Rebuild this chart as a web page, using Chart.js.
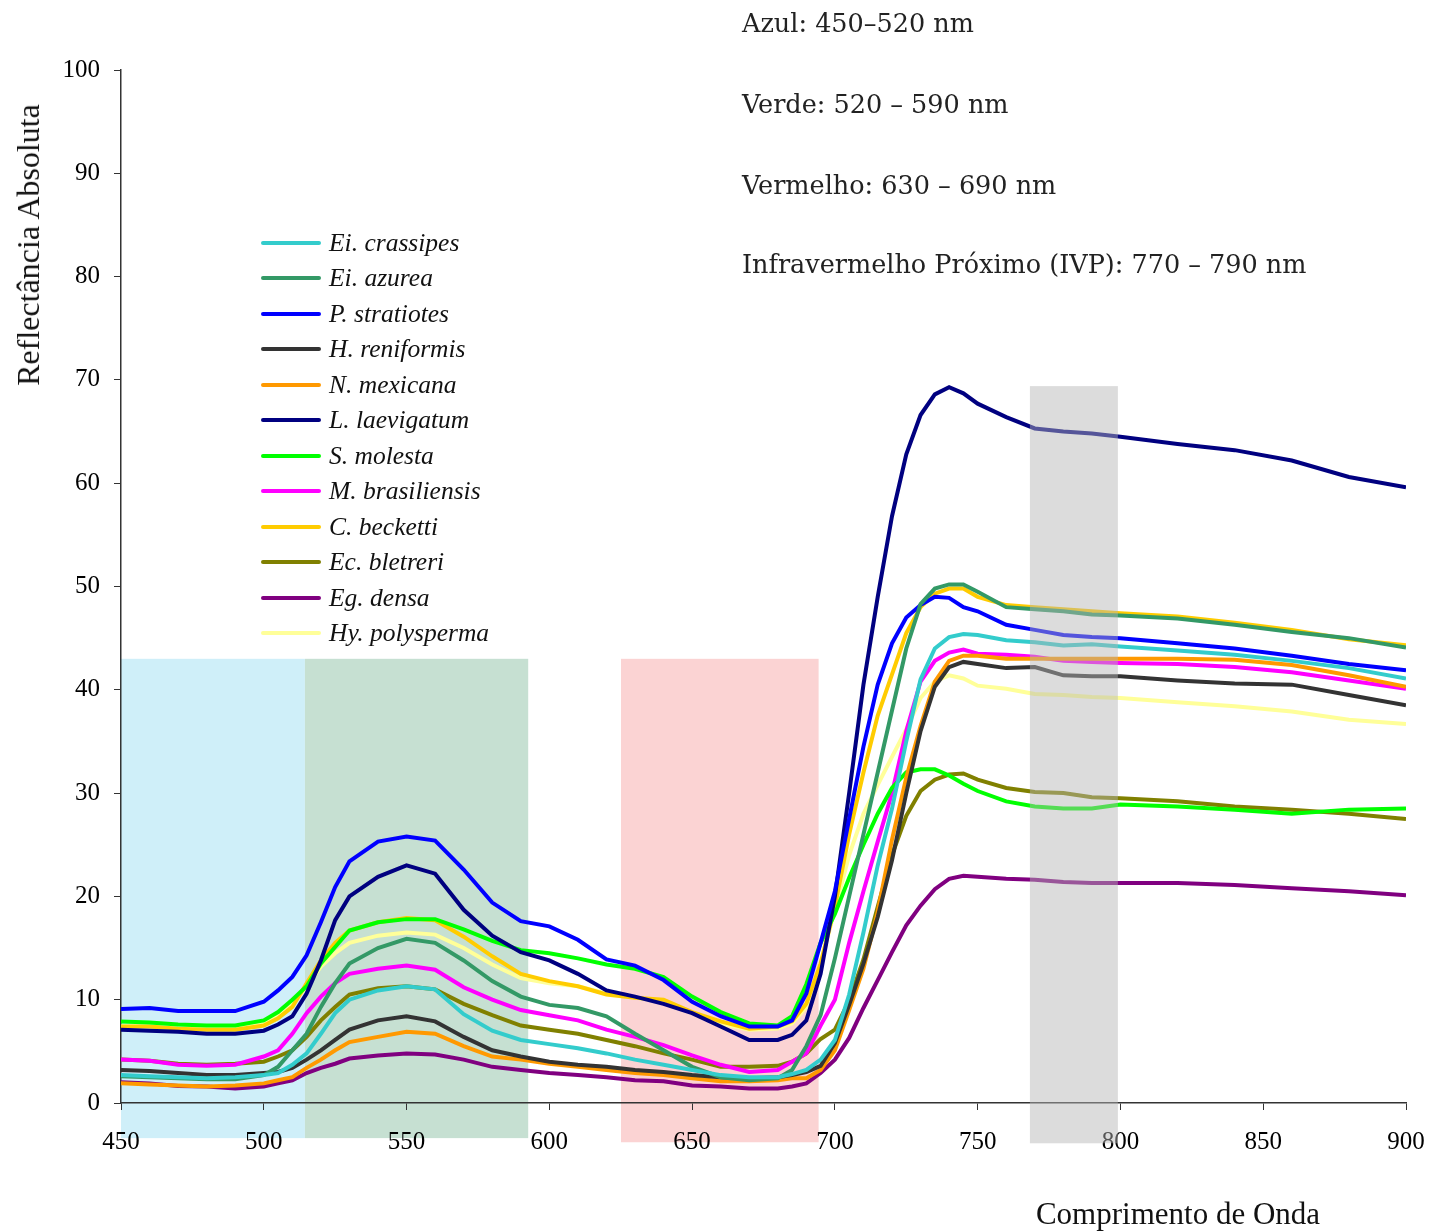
<!DOCTYPE html>
<html>
<head>
<meta charset="utf-8">
<script src="https://cdn.jsdelivr.net/npm/chart.js@4.4.1/dist/chart.umd.min.js"></script>
<style>
  html, body { margin: 0; padding: 0; background: #fff; }
  #wrap { position: relative; width: 1429px; height: 1231px; overflow: hidden; }
  #chart { position: absolute; left: 0; top: 0; }
  .txt { position: absolute; font-family: 'Liberation Serif', 'Times New Roman', serif; color: #111; white-space: nowrap; line-height: 1; }
  .note { left: 742px; font-family: 'DejaVu Serif', serif; font-size: 25.5px; color: #222; transform: translateY(-50%); }
  #ytitle { left: 28px; top: 245px; font-size: 32px; transform: translate(-50%, -50%) rotate(-90deg); }
  #xtitle { left: 1178px; top: 1213px; font-size: 31px; transform: translate(-50%, -50%); }
  #legend { position: absolute; left: 261px; top: 225px; }
  .row { display: flex; align-items: center; height: 35.5px; }
  .swatch { width: 60px; height: 4px; border-radius: 2px; margin-right: 8px; }
  .lab { font-family: 'Liberation Serif', serif; font-style: italic; font-size: 25.5px; color: #111; white-space: nowrap; }
</style>
</head>
<body>
<div id="wrap">
  <canvas id="chart" width="1429" height="1231"></canvas>
  <div class="txt note" style="top:24px">Azul: 450–520 nm</div>
  <div class="txt note" style="top:105px">Verde: 520 – 590 nm</div>
  <div class="txt note" style="top:186px">Vermelho: 630 – 690 nm</div>
  <div class="txt note" style="top:265px">Infravermelho Próximo (IVP): 770 – 790 nm</div>
  <div class="txt" id="ytitle">Reflectância Absoluta</div>
  <div class="txt" id="xtitle">Comprimento de Onda</div>
  <div id="legend"></div>
</div>
<script>
// comprimentos de onda (nm)
const wavelengths = [450,460,470,480,490,500,505,510,515,520,525,530,540,550,560,570,580,590,600,610,620,630,640,650,660,670,680,685,690,695,700,705,710,715,720,725,730,735,740,745,750,760,770,780,790,800,820,840,860,880,900];

const species = ['Ei. crassipes','Ei. azurea','P. stratiotes','H. reniformis','N. mexicana','L. laevigatum','S. molesta','M. brasiliensis','C. becketti','Ec. bletreri','Eg. densa','Hy. polysperma'];
const colors = ['#33cccc','#339966','#0000ff','#333333','#ff9900','#000080','#00ff00','#ff00ff','#ffcc00','#808000','#800080','#ffff99'];

const eiCrassipes  = [2.7,2.6,2.5,2.4,2.5,2.7,2.9,3.7,4.8,6.7,8.7,10.0,10.9,11.3,11.0,8.6,7.0,6.1,5.7,5.3,4.8,4.2,3.7,3.2,2.7,2.5,2.5,2.8,3.2,4.2,6.1,10.5,16.5,23.0,28.5,35.0,41.0,44.0,45.1,45.4,45.3,44.8,44.6,44.3,44.4,44.2,43.8,43.4,42.8,42.1,41.1];
const eiAzurea     = [2.6,2.5,2.4,2.3,2.3,2.7,3.5,5.1,6.7,9.3,11.6,13.5,15.0,15.9,15.5,13.8,11.8,10.3,9.5,9.2,8.4,6.7,5.1,3.5,2.5,2.2,2.4,3.2,5.5,8.5,14.0,20.0,26.0,32.0,38.0,44.0,48.3,49.8,50.2,50.2,49.5,48.0,47.8,47.6,47.3,47.2,46.9,46.3,45.6,45.0,44.1];
const pStratiotes  = [9.1,9.2,8.9,8.9,8.9,9.8,10.9,12.2,14.3,17.5,20.9,23.4,25.3,25.8,25.4,22.6,19.4,17.6,17.1,15.8,13.9,13.3,11.9,9.8,8.4,7.4,7.4,8.0,10.6,15.5,20.5,27.5,34.5,40.5,44.5,47.0,48.2,49.0,48.9,48.0,47.6,46.3,45.8,45.3,45.1,45.0,44.5,44.0,43.3,42.5,41.9];
const hReniformis  = [3.2,3.1,2.9,2.7,2.7,2.9,3.0,3.4,4.2,5.1,6.1,7.1,8.0,8.4,7.9,6.4,5.1,4.5,4.0,3.7,3.5,3.2,3.0,2.7,2.5,2.4,2.5,2.7,3.0,3.6,5.8,9.5,13.5,18.0,23.5,30.0,36.0,40.3,42.2,42.7,42.5,42.1,42.2,41.4,41.3,41.3,40.9,40.6,40.5,39.5,38.5];
const nMexicana    = [1.9,1.8,1.7,1.6,1.7,1.9,2.2,2.5,3.4,4.2,5.1,5.9,6.4,6.9,6.7,5.5,4.5,4.2,3.8,3.5,3.2,2.9,2.7,2.4,2.1,2.1,2.2,2.4,2.4,3.2,5.1,9.0,13.0,18.5,25.5,31.5,36.5,40.8,42.8,43.3,43.3,43.0,43.0,43.0,43.0,43.0,43.0,42.9,42.4,41.4,40.3];
const lLaevigatum  = [7.1,7.0,6.9,6.7,6.7,7.0,7.6,8.4,10.6,13.8,17.7,20.0,21.9,23.0,22.2,18.7,16.2,14.6,13.8,12.5,10.9,10.3,9.6,8.7,7.4,6.1,6.1,6.6,8.0,12.5,20.0,30.0,40.5,49.0,56.8,62.8,66.6,68.6,69.3,68.7,67.7,66.4,65.3,65.0,64.8,64.5,63.8,63.2,62.2,60.6,59.6];
const sMolesta     = [7.9,7.8,7.6,7.5,7.5,8.0,8.8,10.0,11.3,13.5,15.1,16.7,17.5,17.8,17.8,16.8,15.7,14.8,14.5,14.0,13.4,13.0,12.2,10.3,8.8,7.7,7.5,8.4,11.5,15.5,18.3,21.8,25.0,28.0,30.5,32.0,32.3,32.3,31.7,30.9,30.2,29.2,28.7,28.5,28.5,28.9,28.7,28.4,28.0,28.4,28.5];
const mBrasiliensis= [4.2,4.1,3.7,3.6,3.7,4.5,5.1,6.7,8.7,10.3,11.6,12.5,13.0,13.3,12.9,11.2,10.0,9.0,8.5,8.0,7.1,6.4,5.6,4.6,3.7,3.0,3.2,4.0,4.8,7.5,10.0,15.5,20.5,25.3,30.0,36.0,40.8,42.8,43.6,43.9,43.5,43.4,43.2,42.8,42.7,42.6,42.5,42.2,41.7,40.9,40.1];
const cBecketti    = [7.4,7.4,7.2,7.1,7.1,7.5,8.2,9.3,11.6,13.8,15.5,16.7,17.5,17.9,17.7,16.1,14.2,12.5,11.8,11.3,10.5,10.2,10.0,8.8,7.9,7.2,7.4,7.9,9.6,13.5,19.0,26.0,32.0,37.5,41.5,45.5,48.0,49.3,49.8,49.8,49.0,48.2,48.0,47.8,47.6,47.4,47.1,46.5,45.8,44.9,44.3];
const ecBletreri   = [4.2,4.1,3.8,3.7,3.8,4.0,4.5,5.1,6.4,8.0,9.3,10.5,11.1,11.3,11.0,9.6,8.5,7.5,7.1,6.7,6.1,5.5,4.8,4.2,3.5,3.5,3.6,4.0,4.8,6.2,7.1,9.9,13.9,19.0,24.0,27.8,30.2,31.3,31.8,31.9,31.3,30.5,30.1,30.0,29.6,29.5,29.2,28.7,28.4,28.0,27.5];
const egDensa      = [2.0,1.9,1.65,1.6,1.4,1.6,1.9,2.2,2.9,3.4,3.8,4.3,4.6,4.8,4.7,4.2,3.5,3.2,2.9,2.7,2.5,2.2,2.1,1.7,1.6,1.4,1.4,1.6,1.9,2.9,4.2,6.3,9.2,11.9,14.6,17.2,19.1,20.7,21.7,22.0,21.9,21.7,21.6,21.4,21.3,21.3,21.3,21.1,20.8,20.5,20.1];
const hyPolysperma = [7.4,7.4,7.2,7.2,7.2,7.7,8.5,9.5,11.3,13.2,14.5,15.5,16.2,16.5,16.3,15.0,13.4,12.1,11.6,11.3,10.6,10.2,9.8,8.7,7.7,7.1,7.2,7.7,9.3,13.5,18.7,24.0,28.0,30.8,33.5,36.2,39.2,40.8,41.4,41.1,40.4,40.1,39.6,39.5,39.3,39.2,38.8,38.4,37.9,37.1,36.7];

const seriesValues = [eiCrassipes, eiAzurea, pStratiotes, hReniformis, nMexicana, lLaevigatum, sMolesta, mBrasiliensis, cBecketti, ecBletreri, egDensa, hyPolysperma];

// faixas espectrais (nm) e altura (reflectancia)
const bandNames  = ['azul', 'verde', 'vermelho', 'ivp'];
const bandStart  = [450, 514.4, 625.1, 768.3];
const bandEnd    = [514.4, 592.6, 694.3, 799.1];
const bandTop    = [43, 43, 43, 69.4];
const bandBottom = [-3.4, -3.4, -3.8, -3.9];
const bandFill   = ['#cfeff9', '#c6e0d2', '#fbd3d3', 'rgba(180,180,180,0.47)'];

const datasets = species.map((name, i) => ({
    label: name,
    data: wavelengths.map((w, j) => ({ x: w, y: seriesValues[i][j] })),
    borderColor: colors[i],
    backgroundColor: colors[i],
    borderWidth: 4,
    pointRadius: 0,
    fill: false,
    tension: 0
}));

function drawBand(chart, i) {
    const { ctx, scales: { x, y } } = chart;
    const x0 = x.getPixelForValue(bandStart[i]);
    const x1 = x.getPixelForValue(bandEnd[i]);
    const y0 = y.getPixelForValue(bandTop[i]);
    const y1 = y.getPixelForValue(bandBottom[i]);
    ctx.save();
    ctx.fillStyle = bandFill[i];
    ctx.fillRect(x0, y0, x1 - x0, y1 - y0);
    ctx.restore();
}

const bandsPlugin = {
    id: 'bands',
    beforeDraw(chart) {
        for (let i = 0; i < 3; i++) drawBand(chart, i);
    },
    afterDatasetsDraw(chart) {
        drawBand(chart, 3);   // IVP por cima das linhas
    }
};

const tickFont = { family: 'Liberation Serif', size: 25 };

new Chart(document.getElementById('chart').getContext('2d'), {
    type: 'line',
    data: { datasets },
    plugins: [bandsPlugin],
    options: {
        responsive: false,
        animation: false,
        layout: { padding: { top: 70, right: 23, left: 0, bottom: 0 } },
        plugins: { legend: { display: false }, tooltip: { enabled: false } },
        scales: {
            x: {
                type: 'linear', min: 450, max: 900,
                ticks: { stepSize: 50, font: tickFont, color: '#000', padding: 17 },
                grid: { drawOnChartArea: false, tickLength: 7, color: '#333' },
                border: { color: '#333', width: 1.5 },
                afterFit: s => { s.height = 128; s.paddingRight = 0; s.paddingLeft = 0; }
            },
            y: {
                min: 0, max: 100,
                ticks: { stepSize: 10, font: tickFont, color: '#000', padding: 14 },
                grid: { drawOnChartArea: false, tickLength: 7, color: '#333' },
                border: { color: '#333', width: 1.5 },
                afterFit: s => { s.width = 121; }
            }
        }
    }
});

// legenda
const legend = document.getElementById('legend');
species.forEach((name, i) => {
    legend.innerHTML += `<div class="row"><div class="swatch" style="background:${colors[i]}"></div><span class="lab">${name}</span></div>`;
});
</script>
</body>
</html>
